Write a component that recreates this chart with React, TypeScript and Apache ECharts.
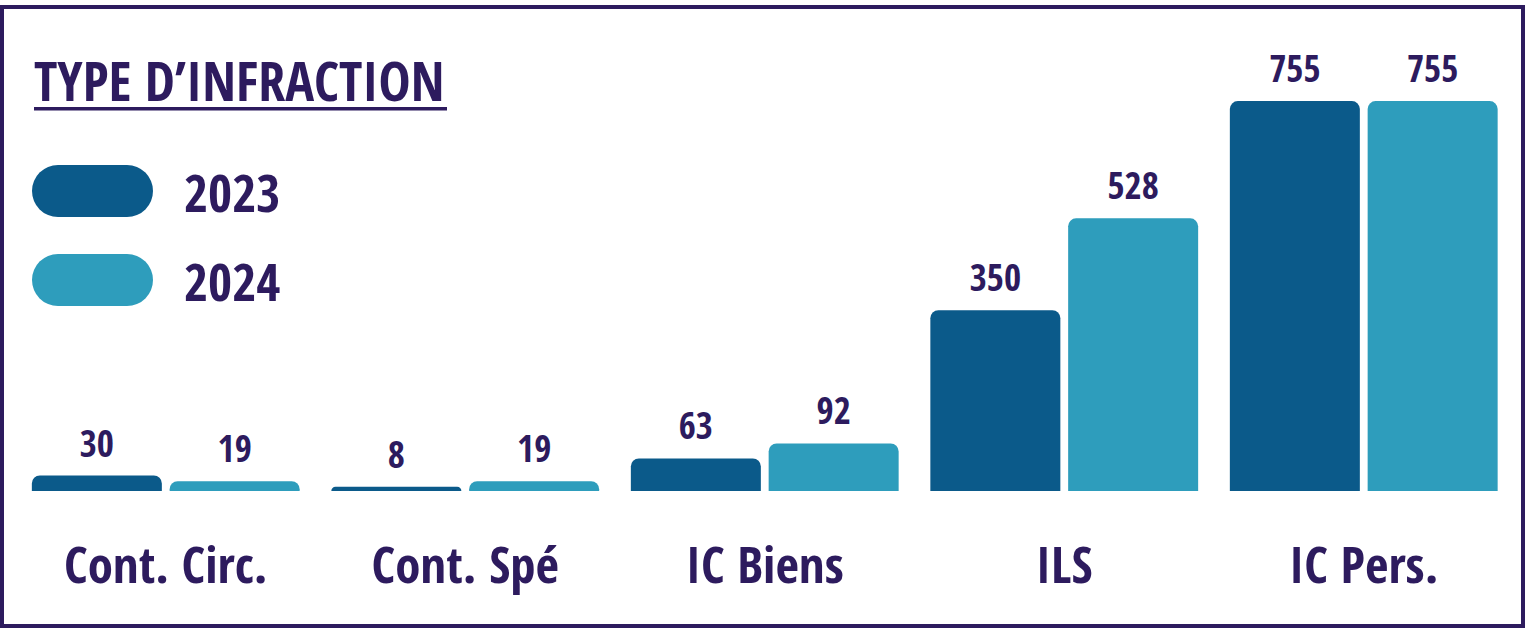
import React, { useEffect, useRef } from "react";
import * as echarts from "echarts";

const categories = ["Cont. Circ.", "Cont. Spé", "IC Biens", "ILS", "IC Pers."];
const seriesNames = ["2023", "2024"];
const values2023 = [30, 8, 63, 350, 755];
const values2024 = [19, 19, 92, 528, 755];

const TEXT = "#2d1b5e";
const C2023 = "#0b5a8a";
const C2024 = "#2e9dbc";
const FONT = "'Open Sans Condensed', 'Open Sans', sans-serif";

export default function App() {
  const ref = useRef<HTMLDivElement>(null);
  useEffect(() => {
    if (!ref.current) return;
    const chart = echarts.init(ref.current, undefined, { renderer: "svg" });
    const pill = "path://M26,0 H95 A26,26 0 0 1 95,52 H26 A26,26 0 0 1 26,0 Z";
    const mkSeries = (name: string, data: number[], color: string) => ({
      name,
      type: "bar",
      data,
      barWidth: 130,
      barGap: "6%",
      itemStyle: { color, borderRadius: [8, 8, 0, 0] },
      label: {
        show: true,
        position: "top",
        distance: 15,
        color: TEXT,
        fontFamily: FONT,
        fontWeight: "bold",
        fontSize: 37,
      },
    });
    chart.setOption({
      animation: false,
      backgroundColor: "#ffffff",
      grid: { left: 16, right: 26.5, top: 77.8, bottom: 139 },
      legend: {
        orient: "vertical",
        left: 27,
        top: 160,
        itemWidth: 121,
        itemHeight: 52,
        itemGap: 37,
        icon: pill,
        selectedMode: false,
        data: seriesNames,
        textStyle: {
          color: TEXT,
          fontFamily: FONT,
          fontWeight: "bold",
          fontSize: 52,
          padding: [0, 0, 0, 26],
        },
      },
      xAxis: {
        type: "category",
        data: categories,
        axisLine: { show: false },
        axisTick: { show: false },
        axisLabel: {
          interval: 0,
          color: TEXT,
          fontFamily: FONT,
          fontWeight: "bold",
          fontSize: 51,
          margin: 46,
        },
      },
      yAxis: {
        type: "value",
        min: 0,
        max: 800,
        show: false,
        splitLine: { show: false },
      },
      graphic: [
        {
          type: "rect",
          shape: { x: 2, y: 7, width: 1521, height: 619 },
          style: { fill: "none", stroke: TEXT, lineWidth: 4 },
          z: 10,
        },
        {
          type: "text",
          x: 34,
          y: 80,
          style: {
            text: "TYPE D\u2019INFRACTION",
            fill: TEXT,
            font: `bold 54px ${FONT}`,
            align: "left",
            verticalAlign: "middle",
          },
        },
        {
          type: "rect",
          shape: { x: 34, y: 107, width: 413, height: 3.5 },
          style: { fill: TEXT },
        },
      ],
      series: [
        mkSeries(seriesNames[0], values2023, C2023),
        mkSeries(seriesNames[1], values2024, C2024),
      ],
    });
    return () => chart.dispose();
  }, []);
  return (
    <div
      ref={ref}
      style={{ position: "fixed", left: 0, top: 0, width: 1540, height: 630 }}
    />
  );
}
